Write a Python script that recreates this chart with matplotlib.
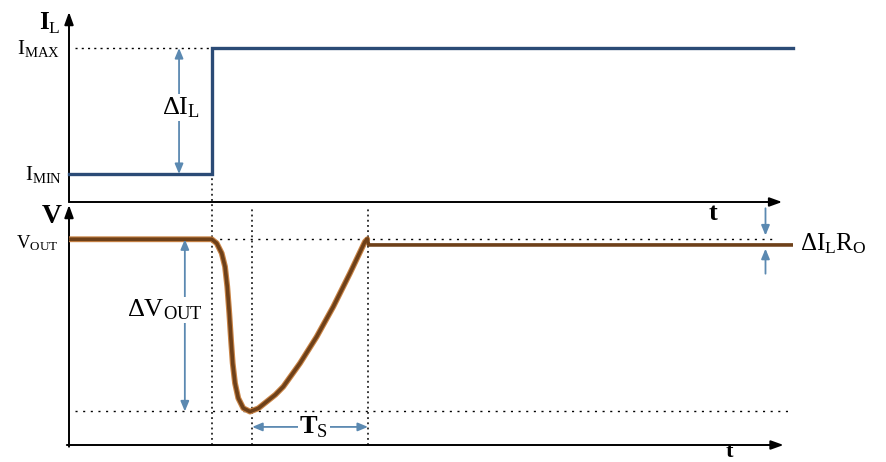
#Load transient response sketch: inductor current step and output voltage
import numpy as np
import matplotlib.pyplot as plt

plt.rcParams['font.family'] = ['Liberation Serif', 'DejaVu Serif']
plt.rcParams['mathtext.fontset'] = 'custom'
plt.rcParams['mathtext.rm'] = 'Liberation Serif'
plt.rcParams['mathtext.bf'] = 'Liberation Serif:bold'

##Data (time in arbitrary units, current and voltage levels)
t_end = 10.0
t_step = 1.97          #load step instant
i_min = 1.0
i_max = 2.0
v_out = 5.0
v_min = 4.0
v_after = 4.967        #new level after the droop (delta IL * RO)
ts_start = 2.53        #bottom of the dip
ts_end = 4.13          #voltage back at v_out

#voltage waveform
wave_t = [0.0, 1.971, 2.040, 2.109, 2.155, 2.186, 2.214, 2.238, 2.261, 2.293,
          2.338, 2.407, 2.500, 2.615, 2.731, 2.850, 2.960, 3.191, 3.421, 3.651,
          3.881, 4.088, 4.12]
wave_v = [5.0, 5.0, 4.977, 4.919, 4.841, 4.725, 4.570, 4.415, 4.280, 4.164,
          4.077, 4.019, 3.999, 4.018, 4.057, 4.097, 4.144, 4.280, 4.434, 4.609,
          4.803, 4.986, 5.0]
after_t = [4.12, 4.14, t_end]
after_v = [5.0, v_after, v_after]

cur_t = [0.0, t_step, t_step, t_end]
cur_i = [i_min, i_min, i_max, i_max]

blue_line = '#2b4b76'
brown = '#6e4019'
arrow_col = '#5b89b1'

W, H = 887, 462
fig = plt.figure(figsize=(W / 100, H / 100), dpi=100)

def frac(left, top, right, bottom):
    return [left / W, 1 - bottom / H, (right - left) / W, (bottom - top) / H]

ax1 = fig.add_axes(frac(69, 12, 793, 202))
ax2 = fig.add_axes(frac(69, 205, 793, 445))
ax1.set_xlim(0, t_end)
ax2.set_xlim(0, t_end)
ax1.set_ylim(0.778, 2.286)
ax2.set_ylim(3.805, 5.199)
for ax in (ax1, ax2):
    ax.axis('off')

black_arrow = dict(arrowstyle='-|>,head_length=0.75,head_width=0.27', color='black',
                   lw=1.4, shrinkA=0, shrinkB=0)
blue_arrow = dict(arrowstyle='-|>,head_length=0.6,head_width=0.25', color=arrow_col,
                  lw=1.3, shrinkA=0, shrinkB=0)
blue_both = dict(arrowstyle='<|-|>,head_length=0.6,head_width=0.25', color=arrow_col,
                 lw=1.3, shrinkA=0, shrinkB=0)

#--- top: inductor current ---
y0, y1 = ax1.get_ylim()
ax1.annotate('', xy=(0, y1), xytext=(0, y0), arrowprops=black_arrow, annotation_clip=False)
ax1.annotate('', xy=(9.85, y0), xytext=(0, y0), arrowprops=black_arrow, annotation_clip=False)
ax1.plot(cur_t, cur_i, color=blue_line, lw=2.4, solid_joinstyle='miter', clip_on=False, zorder=3)
ax1.plot([0.08, t_step], [i_max, i_max], color='black', lw=1, ls=(0, (1.5, 3)))

ax1.annotate('', xy=(1.52, i_max), xytext=(1.52, i_min), arrowprops=blue_both)
ax1.text(1.55, (i_max + i_min) / 2 + 0.03, r'$\Delta\mathrm{I_L}$', fontsize=19,
         ha='center', va='center', bbox=dict(fc='white', ec='none', pad=1))

ax1.text(-0.12, y1 + 0.01, r'$\mathbf{I}_\mathrm{L}$', fontsize=18, ha='right', va='top')
ax1.text(-0.13, i_max, r'$\mathrm{I_{MAX}}$', fontsize=15, ha='right', va='center')
ax1.text(-0.09, i_min, r'$\mathrm{I_{MIN}}$', fontsize=15, ha='right', va='center')
ax1.text(8.9, y0 - 0.01, r'$\mathbf{t}$', fontsize=19, ha='center', va='top')

#--- bottom: output voltage ---
v0, v1 = ax2.get_ylim()
ax2.annotate('', xy=(0, v1), xytext=(0, v0 - 0.01), arrowprops=black_arrow, annotation_clip=False)
ax2.annotate('', xy=(9.87, v0), xytext=(-0.03, v0), arrowprops=black_arrow, annotation_clip=False)

dot = dict(color='black', lw=1.1, ls=(0, (1.2, 2.2)), clip_on=False)
ax2.plot([t_step, t_step], [v0, 5.37], **dot)
ax2.plot([ts_start, ts_start], [v0, 5.18], **dot)
ax2.plot([ts_end, ts_end], [v0, 5.18], **dot)
dot_h = dict(color='black', lw=1, ls=(0, (1.5, 4)))
ax2.plot([t_step, 9.78], [v_out, v_out], **dot_h)
ax2.plot([0.08, 9.95], [v_min, v_min], **dot_h)

ax2.plot(wave_t, wave_v, color='#c98446', lw=4.2, solid_capstyle='round',
         solid_joinstyle='round', zorder=3)
ax2.plot(wave_t, wave_v, color=brown, lw=2.6, solid_capstyle='round',
         solid_joinstyle='round', zorder=4)
ax2.plot(after_t, after_v, color=brown, lw=2.6, zorder=4)

ax2.annotate('', xy=(1.60, v_min), xytext=(1.60, v_out), arrowprops=blue_both)
ax2.text(1.33, 4.59, r'$\Delta\mathrm{V_{OUT}}$', fontsize=19, ha='center', va='center',
         bbox=dict(fc='white', ec='none', pad=0.5))

ax2.annotate('', xy=(ts_start, 3.91), xytext=(3.38, 3.91), arrowprops=blue_arrow)
ax2.annotate('', xy=(ts_end, 3.91), xytext=(3.38, 3.91), arrowprops=blue_arrow)
ax2.text(3.38, 3.91, r'$\mathbf{T}_\mathrm{S}$', fontsize=19, ha='center', va='center',
         bbox=dict(fc='white', ec='none', pad=1))

ax2.annotate('', xy=(9.62, 5.022), xytext=(9.62, 5.18), arrowprops=blue_arrow, annotation_clip=False)
ax2.annotate('', xy=(9.62, 4.945), xytext=(9.62, 4.80), arrowprops=blue_arrow, annotation_clip=False)
ax2.text(10.1, 4.975, r'$\Delta\mathrm{I_L R_O}$', fontsize=18, ha='left', va='center')

ax2.text(-0.09, 5.13, r'$\mathbf{V}$', fontsize=20, ha='right', va='center')
ax2.text(-0.15, 4.975, r'$\mathrm{V_{OUT}}$', fontsize=13.5, ha='right', va='center')
ax2.text(9.13, 3.735, r'$\mathbf{t}$', fontsize=16, ha='center', va='baseline')

plt.savefig('out.png', dpi=100)
